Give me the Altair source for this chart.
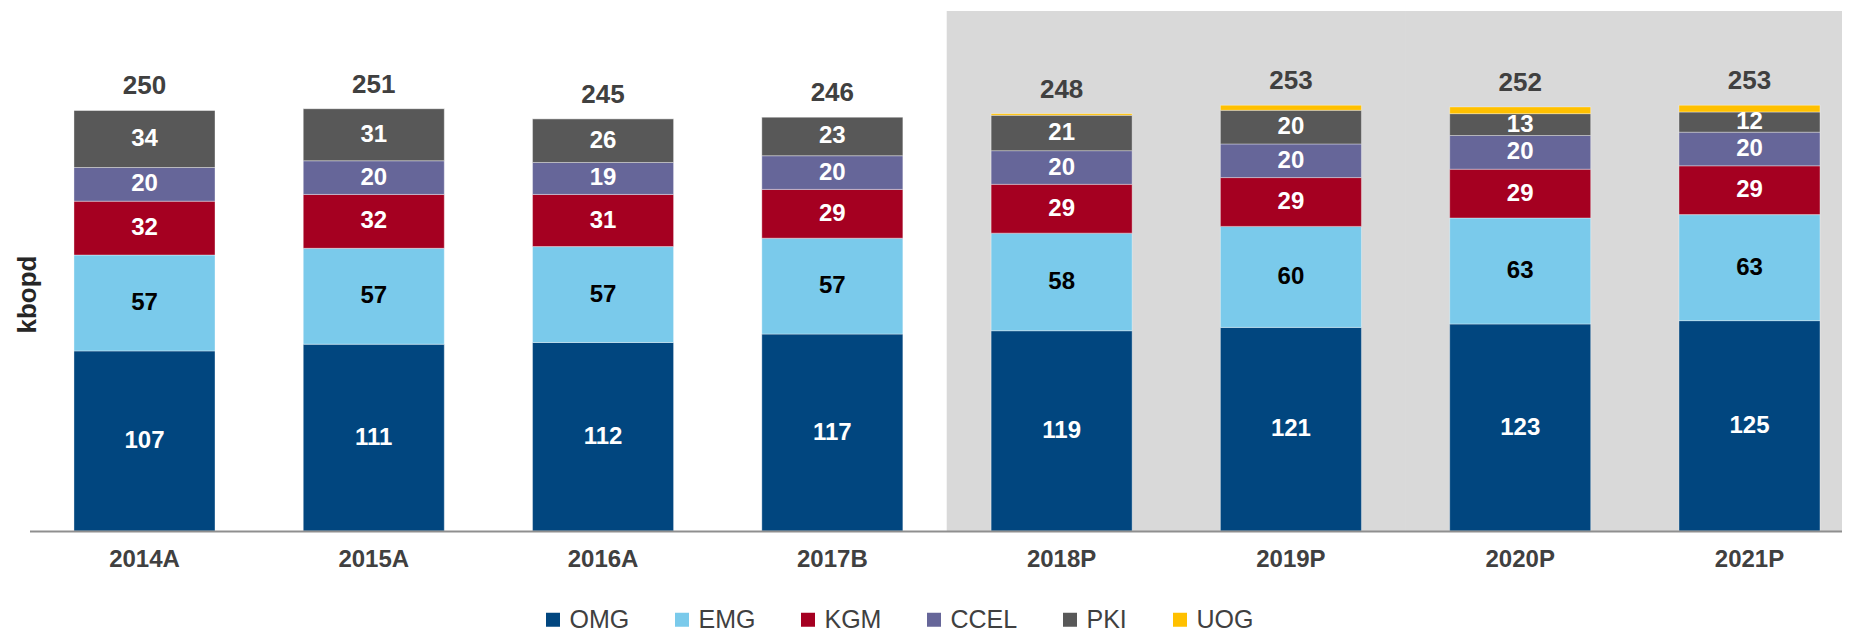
import altair as alt
import pandas as pd

years = ["2014A", "2015A", "2016A", "2017B", "2018P", "2019P", "2020P", "2021P"]
forecast_years = ["2018P", "2019P", "2020P", "2021P"]
series = ["OMG", "EMG", "KGM", "CCEL", "PKI", "UOG"]
colors = ["#01467F", "#7ACAEB", "#A50021", "#666699", "#585858", "#FFC000"]

omg = [107, 111, 112, 117, 119, 121, 123, 125]
emg = [57, 57, 57, 57, 58, 60, 63, 63]
kgm = [32, 32, 31, 29, 29, 29, 29, 29]
ccel = [20, 20, 19, 20, 20, 20, 20, 20]
pki = [34, 31, 26, 23, 21, 20, 13, 12]
uog = [0, 0, 0, 0, 1, 3, 4, 4]
totals = [250, 251, 245, 246, 248, 253, 252, 253]

values = [omg, emg, kgm, ccel, pki, uog]

rows = []
for yi, yr in enumerate(years):
    cum = 0
    for si, s in enumerate(series):
        v = values[si][yi]
        rows.append({"year": yr, "series": s, "idx": si, "value": v,
                     "mid": cum + v / 2})
        cum += v
df = pd.DataFrame(rows)
df_tot = pd.DataFrame({"year": years, "total": totals})
df_bg = pd.DataFrame({"year": forecast_years})

FONT = "Liberation Sans"
W, H = 1812.5, 520
YMAX = 309

x = alt.X("year:N", sort=years,
          scale=alt.Scale(domain=years, paddingInner=0.385, paddingOuter=0.145, align=0.669),
          axis=alt.Axis(title=None, labelAngle=0, labelFontSize=24, labelFont=FONT,
                        labelFontWeight="bold", labelColor="#404040", labelPadding=16,
                        ticks=False, tickSize=0, domainColor="#8f8f8f", domainWidth=2,
                        grid=False, zindex=1))

yscale = alt.Scale(domain=[0, YMAX], nice=False, zero=True)

bg = alt.Chart(df_bg).mark_bar(color="#D9D9D9", width=alt.RelativeBandSize(1.63),
                               clip=True, strokeWidth=0).encode(
    x=x
)

bars = alt.Chart(df).mark_bar(stroke="#ffffff", strokeWidth=0.6, strokeOpacity=0.6).encode(
    x=x,
    y=alt.Y("value:Q", stack="zero", scale=yscale,
            axis=alt.Axis(title="kbopd", labels=False, ticks=False, domain=False, grid=False,
                          titleFontSize=26, titleFont=FONT, titleFontWeight="bold",
                          titleColor="#262626", titleX=11, titleY=283)),
    color=alt.Color("series:N", sort=series,
                    scale=alt.Scale(domain=series, range=colors),
                    legend=alt.Legend(orient="none", legendX=511, legendY=596,
                                      direction="horizontal", title=None,
                                      symbolType="square", symbolSize=196,
                                      symbolStrokeWidth=0, symbolOpacity=1,
                                      labelFontSize=25, labelFont=FONT,
                                      labelColor="#404040", columnPadding=40,
                                      labelOffset=4, padding=0)),
    order=alt.Order("idx:Q", sort="ascending"),
)

lab_white = alt.Chart(df).transform_filter(
    "datum.series != 'UOG' && datum.series != 'EMG'"
).mark_text(color="white", fontSize=24, fontWeight="bold", font=FONT, baseline="middle").encode(
    x=x,
    y=alt.Y("mid:Q", scale=yscale),
    text=alt.Text("value:Q"),
)

lab_black = alt.Chart(df).transform_filter(
    "datum.series == 'EMG'"
).mark_text(color="black", fontSize=24, fontWeight="bold", font=FONT, baseline="middle").encode(
    x=x,
    y=alt.Y("mid:Q", scale=yscale),
    text=alt.Text("value:Q"),
)

tot = alt.Chart(df_tot).mark_text(color="#404040", fontSize=26, fontWeight="bold", font=FONT,
                                  baseline="alphabetic", dy=-16).encode(
    x=x,
    y=alt.Y("total:Q", scale=yscale),
    text=alt.Text("total:Q"),
)

chart = alt.layer(bg, bars, lab_white, lab_black, tot).properties(
    width=W, height=H,
    autosize=alt.AutoSizeParams(type="none"),
    padding={"left": 21.5, "top": 3, "right": 0, "bottom": 102},
).configure_view(stroke=None)

chart.save("out.html", embed_options={"renderer": "svg", "actions": False})
